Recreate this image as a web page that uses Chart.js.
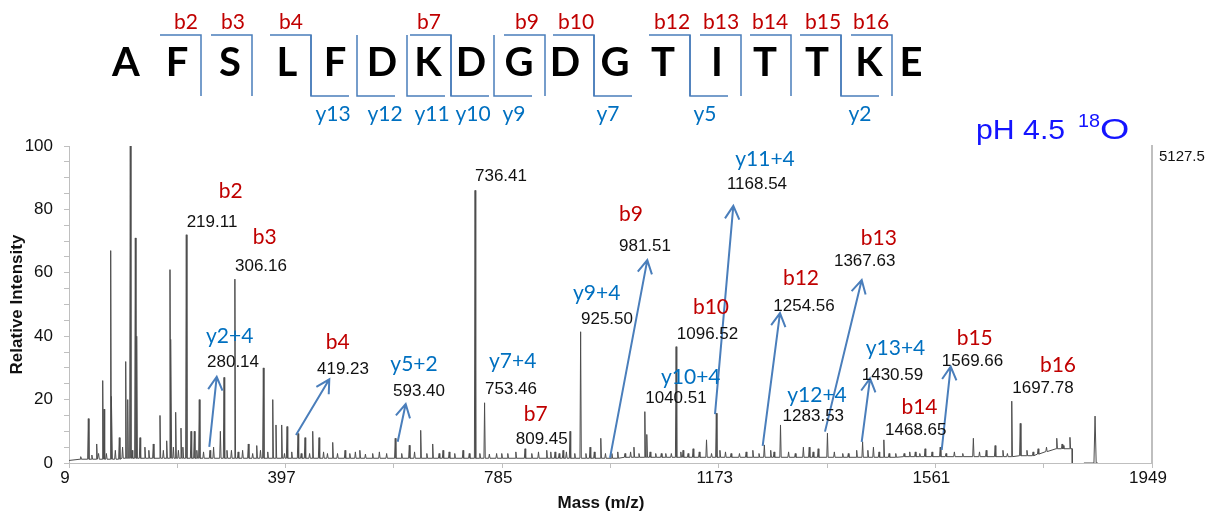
<!DOCTYPE html>
<html>
<head>
<meta charset="utf-8">
<script src="https://cdn.jsdelivr.net/npm/chart.js@4.4.1/dist/chart.umd.min.js"></script>
<style>
  html, body { margin: 0; padding: 0; background: #fff; }
  #wrap { position: relative; width: 1215px; height: 516px; }
</style>
</head>
<body>
<div id="wrap"><canvas id="spec"></canvas></div>
<script>
// peptide and the fragment ions marked on it
const residues = ['A','F','S','L','F','D','K','D','G','D','G','T','I','T','T','K','E'];
const bIons = [2, 3, 4, 7, 9, 10, 12, 13, 14, 15, 16];
const yIons = [13, 12, 11, 10, 9, 7, 5, 2];

// axis ticks
const xTickValues = [9, 203, 397, 591, 785, 979, 1173, 1367, 1561, 1755, 1949];
const xTickLabels = ['9', '', '397', '', '785', '', '1173', '', '1561', '', '1949'];
const yTickLabels = ['0', '20', '40', '60', '80', '100'];

// main peaks (m/z, relative intensity)
const peakMz = [43.6, 58.6, 69.4, 71.7, 83.7, 85.5, 99.1, 110.6, 114.2, 118.8, 127.8, 130.3, 136.2,
  172, 184, 189.9, 191.7, 200.1, 209.6, 219.11, 227.6, 233.5, 242.4, 261.6, 280.14, 286.7, 306.16,
  330.2, 345.3, 357.1, 374, 379.8, 390, 399.6, 419.23, 431.8, 445.6, 456.9, 481.4, 503.5, 530,
  593.4, 618.6, 639, 660.5, 679, 714.8, 736.41, 753.46, 784.2, 809.45, 825.9, 864.8, 879.7, 894,
  906.5, 925.5, 942.4, 961.6, 981.51, 1021, 1040.51, 1044, 1078, 1096.52, 1109, 1127, 1151, 1168.54,
  1175, 1234, 1254.56, 1266, 1283.53, 1324.5, 1335, 1351, 1367.63, 1420, 1430.59, 1440, 1450,
  1468.65, 1525, 1542.5, 1569.66, 1629, 1668, 1682, 1697.78, 1713, 1736, 1778.4, 1788, 1802];
const peakInt = [14, 6, 26, 17, 67, 21, 8, 32, 20, 100, 71, 40, 8,
  15, 7, 61, 39, 16, 11, 72, 10, 10, 20, 4, 10, 27, 58,
  6, 5.5, 30, 20, 12, 12, 11.5, 9.3, 8, 10, 8, 6.5, 4, 4,
  7.8, 5.6, 10.3, 6, 4, 4, 86, 19, 3, 3.5, 4.5, 4, 3.5, 4,
  10, 41.4, 5, 7.8, 3, 5, 16.2, 9, 3, 36.7, 4, 4.5, 7.3, 15.7,
  4, 4, 5.7, 4, 12, 5, 5, 4.5, 9.4, 4, 6.7, 4, 5,
  7.3, 3.5, 4.5, 5, 7.8, 5.5, 4, 19.5, 12.5, 3.5, 7.8, 6, 8.1];

// small peaks in the noise
const noiseMz = [30, 50, 62, 76, 92, 105, 122, 145, 152, 160, 178, 196, 205, 213, 238, 250, 268, 292,
  300, 312, 320, 338, 352, 365, 395, 408, 425, 440, 465, 472, 490, 512, 522, 540, 553, 565, 578,
  605, 628, 650, 672, 690, 700, 726, 745, 762, 775, 795, 838, 850, 872, 887, 900, 915, 935, 950,
  970, 992, 1005, 1015, 1030, 1050, 1060, 1070, 1088, 1105, 1118, 1138, 1160, 1185, 1195, 1210,
  1222, 1245, 1272, 1298, 1310, 1342, 1380, 1395, 1405, 1460, 1478, 1490, 1505, 1515, 1533, 1555,
  1580, 1595, 1610, 1640, 1652, 1690, 1725, 1745, 1760, 1790];
const noiseInt = [2, 2.5, 3, 3, 4, 5, 4, 5, 4, 6, 4, 5, 4, 5, 4, 3.5, 5, 4,
  4, 3.5, 4, 3, 4, 3.5, 3, 3.5, 3, 3, 3.5, 3, 3, 3, 3.5, 2.8, 3, 3.5, 3,
  3, 3.5, 3, 3, 3.5, 3, 3, 3, 2.8, 3, 3, 3, 3.5, 3.5, 3, 3.5, 3, 3, 3.5,
  3, 3.5, 3, 3.5, 3, 3.5, 3, 3, 3, 3.5, 3, 3.5, 3, 3.5, 3, 3,
  3.5, 3, 3.5, 3.5, 3, 3.5, 3.5, 3, 3, 3.5, 3, 3, 3, 3.5, 3, 3.5,
  3, 3.5, 3, 3.5, 4, 3, 4, 4.5, 5, 5.5];

// baseline level, read in steps
const baseMz = [9, 30, 100, 1000, 1500, 1700, 1745, 1760, 1775];
const baseInt = [0.8, 1.2, 1.5, 1.8, 2.0, 2.3, 2.8, 3.6, 4.5];

// isolated region past the gap
const tailMz = [1827, 1845, 1847, 1849, 1852];
const tailInt = [0, 0, 14.8, 0, 0];

// annotations: ion name, mass label
const annIon = ['b2', 'b3', 'y2+4', 'b4', 'y5+2', '', 'y7+4', 'b7', 'y9+4', 'b9', 'b10', 'y10+4',
  'y11+4', 'b12', 'y12+4', 'b13', 'y13+4', 'b14', 'b15', 'b16'];
const annMass = ['219.11', '306.16', '280.14', '419.23', '593.40', '736.41', '753.46', '809.45',
  '925.50', '981.51', '1096.52', '1040.51', '1168.54', '1254.56', '1283.53', '1367.63', '1430.59',
  '1468.65', '1569.66', '1697.78'];

// where the annotation texts sit, in axis units
const ionLabelAt = [[298.7, 85.6], [359.6, 71.3], [296.9, 40.1], [490.3, 38.2], [627, 31.2], null,
  [803.8, 32], [845.2, 15.5], [954.3, 53.6], [1015.7, 78.5], [1159, 49.2], [1122.8, 27.1],
  [1255.8, 95.9], [1320.2, 58.4], [1348.9, 21.5], [1459.6, 71], [1489.5, 36.1], [1532.5, 17.7],
  [1631.4, 39.4], [1780.6, 30.9]];
const massLabelAt = [[265.2, 75.9], [352.9, 62.1], [302.8, 31.9], [499.8, 29.7], [636, 22.7],
  [782.8, 90.5], [800.8, 23.3], [855.8, 7.6], [972.7, 45.4], [1040.8, 68.5], [1152.8, 40.7],
  [1096.3, 20.5], [1241.4, 88], [1325.6, 49.4], [1342.3, 14.8], [1434.3, 63.5], [1484.1, 27.8],
  [1525.8, 10.4], [1627.5, 32], [1753.7, 23.7]];
// arrows: from (m/z, int) to (m/z, int)
const arrows = [[260.3, 5.1, 273.6, 27.2], [415.6, 8.8, 475.3, 26.4], [597.8, 6.7, 612.1, 18.6],
  [978.1, 1.6, 1044.9, 64.0], [1166.2, 15.4, 1199, 81.1], [1251.6, 5.4, 1282.6, 47.3],
  [1363.2, 9.9, 1429, 57.7], [1429, 6.7, 1443.9, 26.7], [1572.3, 4.1, 1588.4, 30.4]];

// header layout (pixels)
const letterX = [126, 177, 230, 287, 335, 382, 428, 471, 519, 565, 615, 663, 717, 765, 817, 869, 911];
const gapX = [152, 201, 252, 311, 357, 407, 451, 494, 545, 594, 640, 690, 741, 791, 841, 892];
const bLabelX = [186, 233, 291, 429, 527, 576, 672, 721, 770, 823, 871];
const yLabelX = [333, 385, 432, 473, 514, 608, 705, 860];

const RED = '#c00000';
const BLUE = '#0070c0';
const LINE_BLUE = '#4a7ebb';
const SANS = '"Liberation Sans", Arial, sans-serif';
const NUM_FONT = '17px ' + SANS;
const ION_FONT = '21px Lato, "Open Sans", sans-serif';

function baseAt(m) {
  let b = baseInt[0];
  for (let i = 0; i < baseMz.length; i++) {
    if (baseMz[i] <= m) b = baseInt[i];
  }
  return b;
}

const allPeaks = peakMz.map((m, i) => [m, peakInt[i]])
  .concat(noiseMz.map((m, i) => [m, noiseInt[i]]))
  .sort((a, b) => a[0] - b[0]);

const specPoints = [{ x: 9, y: baseAt(9) }];
allPeaks.forEach(([m, h]) => {
  const b = baseAt(m);
  specPoints.push({ x: m - 1.2, y: b }, { x: m, y: h }, { x: m + 1.2, y: b });
});
specPoints.push({ x: 1806, y: baseAt(1806) }, { x: 1806.2, y: 0 }, { x: 1806.4, y: null });
tailMz.forEach((m, i) => specPoints.push({ x: m, y: tailInt[i] }));

function drawArrow(ctx, x1, y1, x2, y2) {
  const ang = Math.atan2(y1 - y2, x1 - x2);
  const len = 15, spread = 0.5;
  ctx.beginPath();
  ctx.moveTo(x1, y1);
  ctx.lineTo(x2, y2);
  ctx.moveTo(x2 + len * Math.cos(ang - spread), y2 + len * Math.sin(ang - spread));
  ctx.lineTo(x2, y2);
  ctx.lineTo(x2 + len * Math.cos(ang + spread), y2 + len * Math.sin(ang + spread));
  ctx.stroke();
}

// text drawn a little wider than the font, like the original figure
function wideText(ctx, text, x, y, sx) {
  ctx.save();
  ctx.translate(x, y);
  ctx.scale(sx, 1);
  ctx.fillText(text, 0, 0);
  ctx.restore();
}

const annotate = {
  id: 'annotate',
  afterDatasetsDraw(chart) {
    const ctx = chart.ctx;
    const xs = chart.scales.x, ys = chart.scales.y;
    ctx.save();
    ctx.textAlign = 'center';
    ctx.textBaseline = 'middle';

    // arrows
    ctx.strokeStyle = LINE_BLUE;
    ctx.lineWidth = 2;
    arrows.forEach(a => {
      drawArrow(ctx, xs.getPixelForValue(a[0]), ys.getPixelForValue(a[1]),
        xs.getPixelForValue(a[2]), ys.getPixelForValue(a[3]));
    });

    // ion names and masses
    annIon.forEach((name, i) => {
      if (name && ionLabelAt[i]) {
        ctx.font = ION_FONT;
        ctx.fillStyle = name[0] === 'b' ? RED : BLUE;
        ctx.fillText(name, xs.getPixelForValue(ionLabelAt[i][0]), ys.getPixelForValue(ionLabelAt[i][1]));
      }
      ctx.font = NUM_FONT;
      ctx.fillStyle = '#111';
      ctx.fillText(annMass[i], xs.getPixelForValue(massLabelAt[i][0]), ys.getPixelForValue(massLabelAt[i][1]));
    });

    // x axis title
    ctx.font = 'bold 17px ' + SANS;
    ctx.fillText('Mass (m/z)', 601, 503);

    // full scale intensity
    ctx.textAlign = 'left';
    ctx.font = '15px ' + SANS;
    ctx.fillText('5127.5', chart.chartArea.right + 7, 157);

    // condition
    ctx.fillStyle = '#1414ff';
    ctx.textBaseline = 'alphabetic';
    ctx.font = '28px ' + SANS;
    wideText(ctx, 'pH 4.5', 976, 139, 1.08);
    ctx.font = '18px ' + SANS;
    wideText(ctx, '18', 1078, 127, 1.1);
    ctx.font = '29px ' + SANS;
    wideText(ctx, 'O', 1100, 139, 1.3);

    // peptide sequence header
    ctx.textBaseline = 'middle';
    ctx.textAlign = 'center';
    ctx.font = 'bold 40px Lato, "Open Sans", sans-serif';
    ctx.fillStyle = '#000';
    residues.forEach((r, i) => ctx.fillText(r, letterX[i], 63));

    ctx.strokeStyle = LINE_BLUE;
    ctx.lineWidth = 1.5;
    ctx.font = ION_FONT;
    bIons.forEach((n, i) => {
      const gx = gapX[n - 1];
      ctx.beginPath();
      ctx.moveTo(gx - 41, 35);
      ctx.lineTo(gx, 35);
      ctx.lineTo(gx, 96);
      ctx.stroke();
      ctx.fillStyle = RED;
      ctx.fillText('b' + n, bLabelX[i], 22);
    });
    yIons.forEach((n, i) => {
      const gx = gapX[residues.length - n - 1];
      ctx.beginPath();
      ctx.moveTo(gx, 35);
      ctx.lineTo(gx, 96);
      ctx.lineTo(gx + 38, 96);
      ctx.stroke();
      ctx.fillStyle = BLUE;
      ctx.fillText('y' + n, yLabelX[i], 114);
    });
    ctx.restore();
  }
};

const tickFont = { family: SANS, size: 17 };
const titleFont = { family: SANS, size: 17, weight: 'bold' };

new Chart(document.getElementById('spec'), {
  type: 'line',
  data: {
    datasets: [{
      data: specPoints,
      borderColor: '#4d4d4d',
      borderWidth: 1,
      pointRadius: 0,
      tension: 0,
      spanGaps: false,
      fill: false
    }]
  },
  options: {
    responsive: true,
    maintainAspectRatio: false,
    animation: false,
    layout: { padding: { left: 0, right: 0, top: 146, bottom: 0 } },
    plugins: { legend: { display: false }, tooltip: { enabled: false } },
    scales: {
      x: {
        type: 'linear',
        min: 9,
        max: 1949,
        afterBuildTicks: s => { s.ticks = xTickValues.map(v => ({ value: v })); },
        afterFit: s => { s.height = 53; },
        grid: { drawOnChartArea: false, drawTicks: true, tickLength: 5, color: '#bfbfbf' },
        border: { color: '#bfbfbf', width: 1 },
        ticks: {
          callback: (v, i) => xTickLabels[i],
          color: '#111', font: tickFont, padding: 0, labelOffset: -4, maxRotation: 0, autoSkip: false
        }
      },
      y: {
        min: 0,
        max: 100,
        afterFit: s => { s.width = 69; },
        grid: { drawOnChartArea: false, drawTicks: true, tickLength: 5, color: '#bfbfbf' },
        border: { color: '#bfbfbf', width: 1 },
        ticks: {
          stepSize: 5,
          callback: v => (v % 20 === 0 ? yTickLabels[v / 20] : ''),
          color: '#111', font: tickFont, padding: 11, autoSkip: false
        },
        title: { display: true, text: 'Relative Intensity', color: '#111', font: titleFont, padding: { top: 7, bottom: 0 } }
      },
      y2: {
        position: 'right',
        min: 0,
        max: 100,
        afterFit: s => { s.width = 63; },
        grid: { display: false, drawTicks: false },
        border: { display: true, color: '#bfbfbf', width: 2 },
        ticks: { display: false }
      }
    }
  },
  plugins: [annotate]
});
</script>
</body>
</html>
